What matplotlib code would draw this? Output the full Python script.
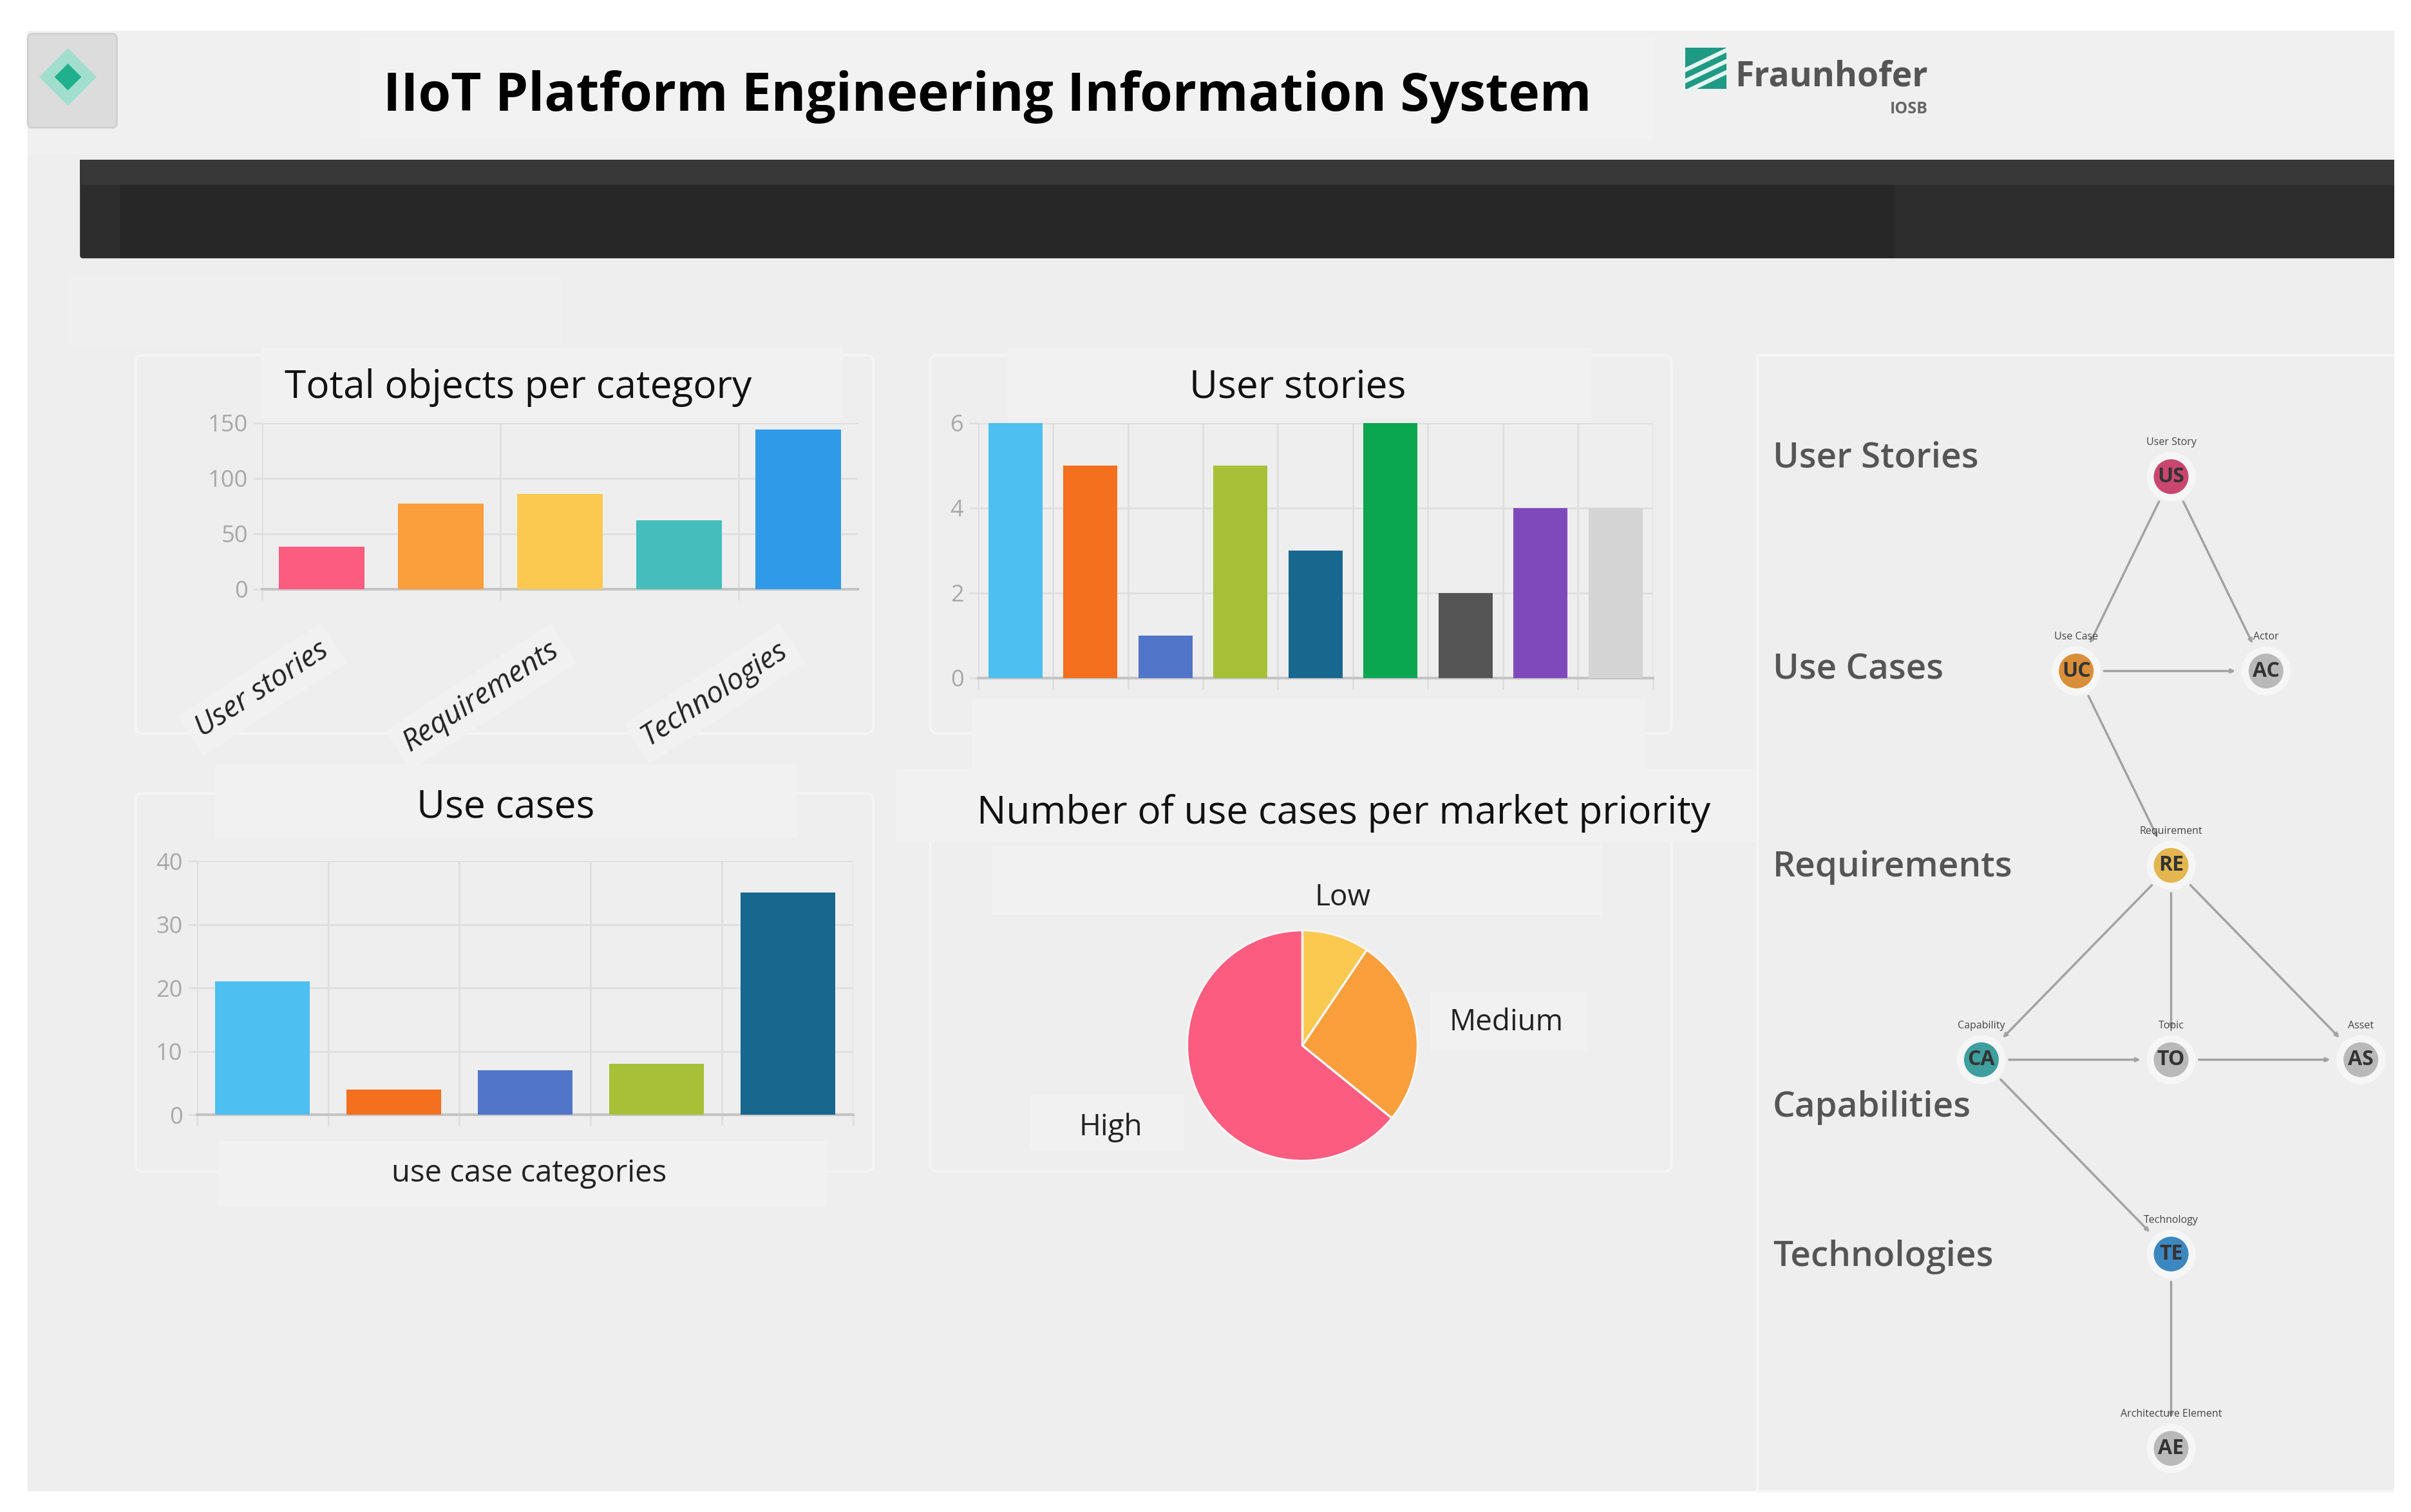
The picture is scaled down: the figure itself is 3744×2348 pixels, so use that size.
import matplotlib
matplotlib.use("Agg")
import matplotlib.pyplot as plt
from matplotlib.patches import Rectangle, FancyBboxPatch, Polygon

plt.rcParams['font.family'] = ['Open Sans', 'DejaVu Sans']

# chart data
total_categories = ["User stories", "Use cases", "Requirements", "Capabilities", "Technologies"]
total_values = [38, 77, 86, 62, 144]
total_colors = ["#fb5c80", "#fb9e3c", "#fbc94f", "#45bdbd", "#2f9be8"]

story_values = [6, 5, 1, 5, 3, 6, 2, 4, 4]
story_colors = ["#4dbff0", "#f46f1e", "#5175c9", "#a7c037", "#17678f",
                "#0aa650", "#555555", "#7f49bb", "#d4d4d4"]

case_values = [21, 4, 7, 8, 35]
case_colors = ["#4dbff0", "#f46f1e", "#5175c9", "#a7c037", "#17678f"]

priority_labels = ["Low", "Medium", "High"]
priority_values = [5, 14, 34]
priority_colors = ["#fbc94f", "#fb9e3c", "#fb5c80"]

# graph of the object model, col/row on a regular grid
node_names = ["US", "UC", "AC", "RE", "CA", "TO", "AS", "TE", "AE"]
node_titles = ["User Story", "Use Case", "Actor", "Requirement", "Capability",
               "Topic", "Asset", "Technology", "Architecture Element"]
node_cols = [0, -1, 1, 0, -2, 0, 2, 0, 0]
node_rows = [0, 1, 1, 2, 3, 3, 3, 4, 5]
node_colors = ["#c9476f", "#d98f3a", "#b9b9b9", "#e3b64f", "#3f9e9e",
               "#b9b9b9", "#b9b9b9", "#3d87c0", "#b9b9b9"]
edges = [("US", "UC"), ("US", "AC"), ("UC", "AC"), ("UC", "RE"), ("RE", "CA"), ("RE", "TO"),
         ("RE", "AS"), ("CA", "TO"), ("TO", "AS"), ("CA", "TE"), ("TE", "AE")]
layer_names = ["User Stories", "Use Cases", "Requirements", "Capabilities", "Technologies"]
layer_rows = [-0.095, 0.995, 2.01, 3.245, 4.015]

W, H = 3744, 2348
PAGE_W = 1568.0
PAGE_H = PAGE_W * H / W
TICK_GREY = "#a8a8a8"
GRID = "#dfdfdf"
PALE = "#f1f1f1"

fig = plt.figure(figsize=(W / 100, H / 100), dpi=100, facecolor="white")


def add_axes(left, top, right, bottom):
    ax = fig.add_axes([left / PAGE_W, 1 - bottom / PAGE_H, (right - left) / PAGE_W, (bottom - top) / PAGE_H])
    ax.patch.set_alpha(0)
    return ax


def light_patch(x0, y0, x1, y1, color=PALE):
    bg.add_patch(Rectangle((x0, y0), x1 - x0, y1 - y0, facecolor=color, edgecolor="none"))


def panel(x0, y0, x1, y1):
    bg.add_patch(FancyBboxPatch((x0, y0), x1 - x0, y1 - y0, boxstyle="round,pad=0,rounding_size=5",
                                facecolor="#eeeeee", edgecolor="#f4f4f4", linewidth=3))


def bar_chart(ax, values, colors, ymax, yticks, edge_step=1):
    n = len(values)
    ax.bar(range(n), values, width=0.72, color=colors, zorder=3)
    ax.set_xlim(-0.5, n - 0.5)
    ax.set_ylim(0, ymax)
    ax.set_yticks(yticks)
    ax.set_xticks([i - 0.5 for i in range(0, n + 1, edge_step)])
    ax.set_xticklabels([])
    ax.grid(True, color=GRID, linewidth=2)
    ax.set_axisbelow(True)
    for s in ["top", "right", "left"]:
        ax.spines[s].set_visible(False)
    ax.spines["bottom"].set_color("#c4c4c4")
    ax.spines["bottom"].set_linewidth(3)
    ax.tick_params(axis="y", colors=TICK_GREY, labelsize=26, length=10, width=2, color=GRID, pad=6)
    ax.tick_params(axis="x", length=12, width=2, color=GRID)


def place_title(ax, box, text, cx, cy):
    left, top, right, bottom = box
    ax.set_title(text, x=(cx - left) / (right - left), y=(bottom - cy) / (bottom - top), pad=0,
                 ha="center", va="center", fontsize=43.5, color="#111111")


# page background
bg = fig.add_axes([0, 0, 1, 1])
bg.set_xlim(0, PAGE_W)
bg.set_ylim(PAGE_H, 0)
bg.axis("off")
bg.add_patch(Rectangle((18, 20), 1539, 950, facecolor="#eeeeee", edgecolor="none"))
light_patch(18, 20, 1557, 100, "#f0f0f0")
light_patch(235, 25, 1075, 90, "#f2f2f2")
light_patch(45, 178, 365, 225, "#efefef")

# app icon
bg.add_patch(FancyBboxPatch((18, 22), 58, 61, boxstyle="round,pad=0,rounding_size=3",
                            facecolor="#dcdcdc", edgecolor="#d0d0d0", linewidth=2))
bg.scatter([44], [50], marker="D", s=2080, color="#8fdfc9", alpha=0.75, linewidths=0)
bg.scatter([44], [50], marker="D", s=450, color="#1fb08c", linewidths=0)

# header
bg.text(642, 63, "IIoT Platform Engineering Information System", ha="center", va="center",
        fontsize=59, fontweight="bold", color="black")
bg.add_patch(Rectangle((1096, 31), 27, 27, facecolor="#1f9a84", edgecolor="none"))
for off in [0, 9, 18]:
    bg.add_patch(Polygon([(1096, 44 + off * 0.8), (1096, 47 + off * 0.8), (1123, 34 + off * 0.8), (1123, 31 + off * 0.8)],
                         closed=True, facecolor="#e6f5f1", edgecolor="none"))
bg.text(1254, 50, "Fraunhofer", ha="right", va="center", fontsize=38.5, fontweight="bold", color="#555555")
bg.text(1254, 71, "IOSB", ha="right", va="center", fontsize=18, fontweight="bold", color="#666666")

# dark menu bar
bg.add_patch(FancyBboxPatch((52, 104), 1505, 64, boxstyle="round,pad=0,rounding_size=2",
                            facecolor="#2d2d2d", edgecolor="none"))
light_patch(52, 104, 1557, 120, "#383838")
light_patch(78, 120, 1232, 168, "#272727")
light_patch(1232, 120, 1557, 168, "#2d2d2d")

# panels and the pale boxes around their texts
panel(88, 231, 568, 477)
panel(605, 231, 1087, 477)
panel(88, 516, 568, 762)
panel(605, 516, 1087, 762)
light_patch(170, 226, 548, 272)
light_patch(655, 226, 1035, 272)
light_patch(632, 455, 1070, 500)
light_patch(140, 497, 518, 545)
light_patch(583, 500, 1165, 548)
light_patch(645, 550, 1042, 595)
light_patch(930, 645, 1032, 683)
light_patch(670, 712, 770, 748)
light_patch(142, 742, 538, 785)

# right hand panel
bg.add_patch(Rectangle((1143, 231), 420, 739, facecolor="#eeeeee", edgecolor="#f5f5f5", linewidth=3))
bg.add_patch(Rectangle((1557, 0), 11, PAGE_H, facecolor="white", edgecolor="none", zorder=5))

# total objects per category
box1 = (170.5, 275, 558, 383)
ax1 = add_axes(*box1)
bar_chart(ax1, total_values, total_colors, 150, [0, 50, 100, 150], edge_step=2)
place_title(ax1, box1, "Total objects per category", 337, 252)
# every second label shown, they sit a little left of their bars
ax1.set_xticks([-0.03, 1.9, 3.82], minor=True)
ax1.set_xticklabels([total_categories[i] for i in [0, 2, 4]], minor=True, rotation=33, ha="right",
                    rotation_mode="anchor", fontsize=33, color="#222222", style="italic")
ax1.tick_params(axis="x", which="minor", length=0, pad=52)
ax1.grid(False, which="minor")
for lab in ax1.get_xticklabels(minor=True):
    lab.set_bbox(dict(facecolor=PALE, edgecolor="none", pad=10))

# user stories
box2 = (636, 275, 1075, 441)
ax2 = add_axes(*box2)
bar_chart(ax2, story_values, story_colors, 6, [0, 2, 4, 6])
place_title(ax2, box2, "User stories", 844, 252)

# use cases
box3 = (128, 560, 555, 725)
ax3 = add_axes(*box3)
bar_chart(ax3, case_values, case_colors, 40, [0, 10, 20, 30, 40])
place_title(ax3, box3, "Use cases", 329, 525)
ax3.set_xlabel("use case categories", fontsize=34, color="#222222")
ax3.xaxis.set_label_coords((344 - 128) / (555 - 128), (725 - 763) / (725 - 560), transform=ax3.transAxes)
ax3.xaxis.label.set_va("center")

# market priority
r = 75 * 1.25
box4 = (847 - r, 680 - r, 847 + r, 680 + r)
ax4 = add_axes(*box4)
wedges, texts = ax4.pie(priority_values, colors=priority_colors, startangle=90, counterclock=False,
                        labels=priority_labels, wedgeprops=dict(edgecolor="#f5f5f5", linewidth=2.5),
                        textprops=dict(fontsize=33, color="#222222"))
for t, pos in zip(texts, [(0.35, 1.28), (1.77, 0.20), (-1.66, -0.71)]):
    t.set_position(pos)
    t.set_ha("center")
    t.set_va("center")
place_title(ax4, box4, "Number of use cases per market priority", 874, 529)

# object model graph, one column = 61.7 and one row = 126.4 page units
col_w, row_h = 61.7, 126.4
graph = add_axes(1145, 225, 1557, 970)
graph.set_xlim((1145 - 1412) / col_w, (1557 - 1412) / col_w)
graph.set_ylim((970 - 310) / row_h, (225 - 310) / row_h)
graph.axis("off")
pos = {n: (c, w) for n, c, w in zip(node_names, node_cols, node_rows)}
for a, b in edges:
    graph.annotate("", xy=pos[b], xytext=pos[a],
                   arrowprops=dict(arrowstyle="-|>,head_length=0.35,head_width=0.16", color="#a2a2a2", lw=2.5,
                                   shrinkA=31, shrinkB=34))
graph.scatter(node_cols, node_rows, s=2200, c=node_colors, edgecolors="#f6f6f6", linewidths=8, zorder=3)
for n, title, c, w in zip(node_names, node_titles, node_cols, node_rows):
    graph.text(c, w, n, ha="center", va="center", fontsize=23, fontweight="bold", color="#333333", zorder=4)
    graph.text(c, w - 0.175, title, ha="center", va="center", fontsize=11.5, color="#444444", zorder=4)
for name, w in zip(layer_names, layer_rows):
    graph.text((1153 - 1412) / col_w, w, name, ha="left", va="center", fontsize=39.5, fontweight="semibold",
               color="#555555")

fig.savefig("out.png", dpi=100)
